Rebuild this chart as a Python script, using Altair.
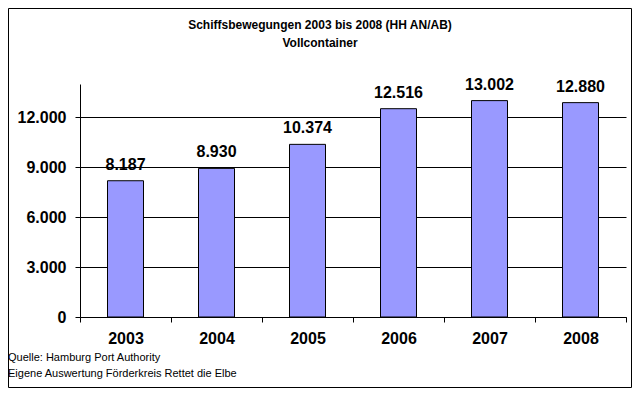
import altair as alt
import pandas as pd

years = ["2003", "2004", "2005", "2006", "2007", "2008"]
values = [8187, 8930, 10374, 12516, 13002, 12880]
y_ticks = [0, 3000, 6000, 9000, 12000]
title_lines = ["Schiffsbewegungen 2003 bis 2008 (HH AN/AB)", "Vollcontainer"]
notes = ["Quelle: Hamburg Port Authority", "Eigene Auswertung Förderkreis Rettet die Elbe"]

df = pd.DataFrame({"year": years, "v": values})
FONT = "Arial"

base = alt.Chart(df).transform_calculate(
    lbl="replace(format(datum.v, ','), ',', '.')"
)

x_enc = alt.X(
    "year:N", sort=None,
    scale=alt.Scale(paddingInner=0, paddingOuter=0),
    axis=alt.Axis(
        title=None, labelAngle=0, labelFont=FONT, labelFontSize=16,
        labelFontWeight="bold", labelColor="black", domainColor="black",
        tickColor="black", tickSize=5, tickBand="extent", labelPadding=8,
        grid=False,
    ),
)
y_enc = alt.Y(
    "v:Q",
    scale=alt.Scale(domain=[0, 14000], nice=False),
    axis=alt.Axis(
        title=None, values=y_ticks, grid=True, gridColor="black", gridWidth=1,
        labelExpr="replace(format(datum.value, ','), ',', '.')",
        labelFont=FONT, labelFontSize=16, labelFontWeight="bold",
        labelColor="black", domainColor="black", tickColor="black",
        tickSize=5, labelPadding=9,
    ),
)

bars = base.mark_bar(size=36, color="#9999FF", stroke="black", strokeWidth=1).encode(
    x=x_enc, y=y_enc
)
labels = base.mark_text(
    font=FONT, fontSize=16, fontWeight="bold", color="black",
    baseline="alphabetic", dy=-11,
).encode(x=alt.X("year:N", sort=None), y="v:Q", text="lbl:N")


def text_layer(txt, xpos, ypos, size, weight, align):
    return alt.Chart(pd.DataFrame({"t": [txt]})).mark_text(
        font=FONT, fontSize=size, fontWeight=weight, color="black",
        baseline="middle", align=align,
    ).encode(x=alt.value(xpos), y=alt.value(ypos), text="t:N")


title1 = text_layer(title_lines[0], 240, -59, 12, "bold", "center")
title2 = text_layer(title_lines[1], 240, -41, 12, "bold", "center")
foot1 = text_layer(notes[0], -72, 274, 11, "normal", "left")
foot2 = text_layer(notes[1], -72, 290, 11, "normal", "left")

border = alt.Chart(pd.DataFrame({"a": [0]})).mark_rect(
    fillOpacity=0, stroke="black", strokeWidth=1
).encode(
    x=alt.value(-71.5), x2=alt.value(551.5), y=alt.value(-75.5), y2=alt.value(303.5)
)

chart = alt.layer(bars, labels, title1, title2, foot1, foot2, border).properties(
    width=546, height=233,
    autosize=alt.AutoSizeParams(type="none"),
    padding={"left": 72, "top": 76, "right": 6, "bottom": 71},
    background="white",
).configure_view(stroke=None)

chart.save("out.html", embed_options={"renderer": "svg", "actions": False})
